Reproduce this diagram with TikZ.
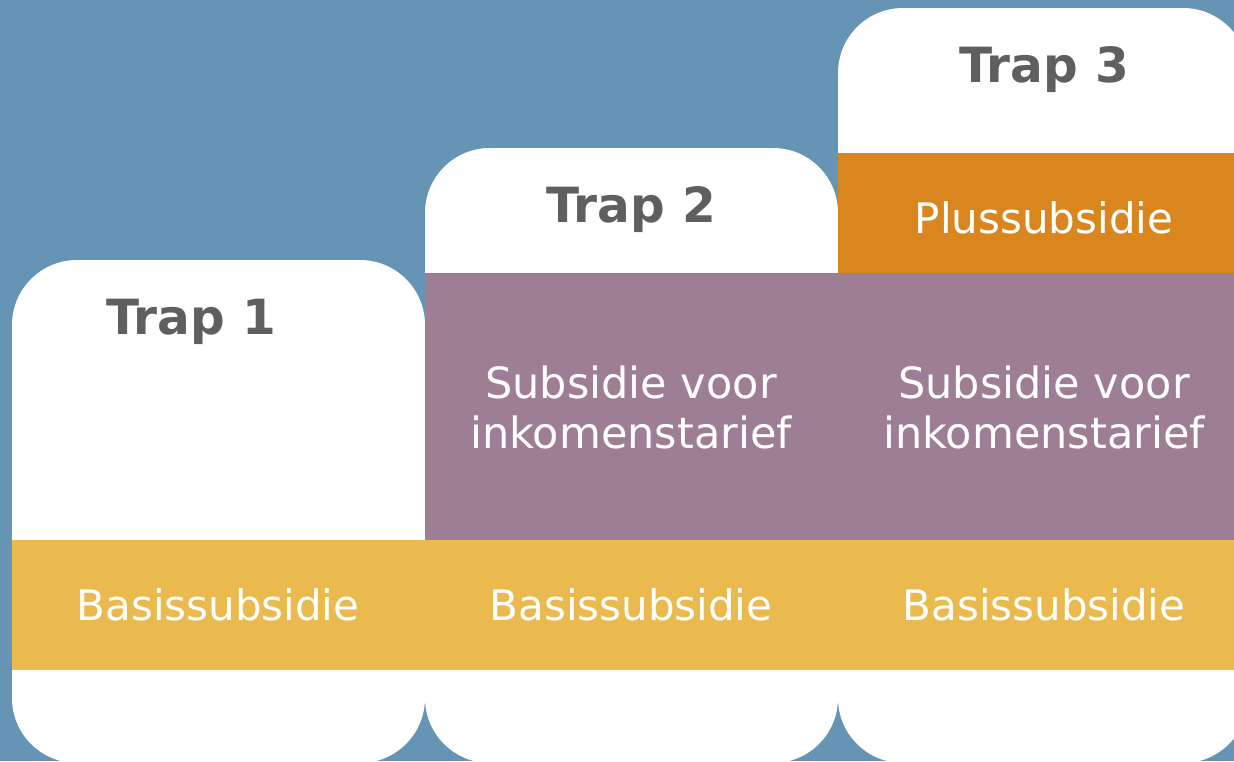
\documentclass[tikz,border=0pt]{standalone}
\usepackage{fontspec}
\setmainfont{DejaVu Sans}
\definecolor{bgblue}{HTML}{6694B4}
\definecolor{basisyellow}{HTML}{EBBA4E}
\definecolor{inkpurple}{HTML}{9E7E95}
\definecolor{plusorange}{HTML}{D9861F}
\definecolor{trapgrey}{HTML}{5F5F5F}
\tikzset{
  column/.style={fill=white, rounded corners=65pt},
  traplabel/.style={text=trapgrey, font=\fontsize{48.5}{58}\selectfont\bfseries, inner sep=0pt},
  bandlabel/.style={text=white, font=\fontsize{42}{50}\selectfont, align=center, inner sep=0pt},
  inklabel/.style={text=white, font=\fontsize{43}{50}\selectfont, align=center, inner sep=0pt},
}
\begin{document}
\begin{tikzpicture}[x=1pt,y=-1pt]
\useasboundingbox (0,0) rectangle (1234,761);
\fill[bgblue] (0,0) rectangle (1234,761);
\begin{scope}
\clip (0,0) rectangle (1234,761);
\fill[column] (12,260) rectangle (425,763);
\fill[column] (425,148) rectangle (838,763);
\fill[column] (838,8) rectangle (1248,763);
\fill[basisyellow] (12,540) rectangle (1234,670);
\fill[inkpurple] (425,273) rectangle (1234,540);
\fill[plusorange] (838,153) rectangle (1234,273);
\end{scope}
\node[traplabel] (t1) at (191,322) {Trap 1};
\node[traplabel] (t2) at (631,210) {Trap 2};
\node[traplabel] (t3) at (1044,70) {Trap 3};
\node[bandlabel] (plus) at (1044,218) {Plussubsidie};
\node[inklabel] (ink2) at (631,407) {Subsidie voor\\inkomenstarief};
\node[inklabel] (ink3) at (1044,407) {Subsidie voor\\inkomenstarief};
\node[bandlabel] (b1) at (218,605) {Basissubsidie};
\node[bandlabel] (b2) at (631,605) {Basissubsidie};
\node[bandlabel] (b3) at (1044,605) {Basissubsidie};
\end{tikzpicture}
\end{document}
